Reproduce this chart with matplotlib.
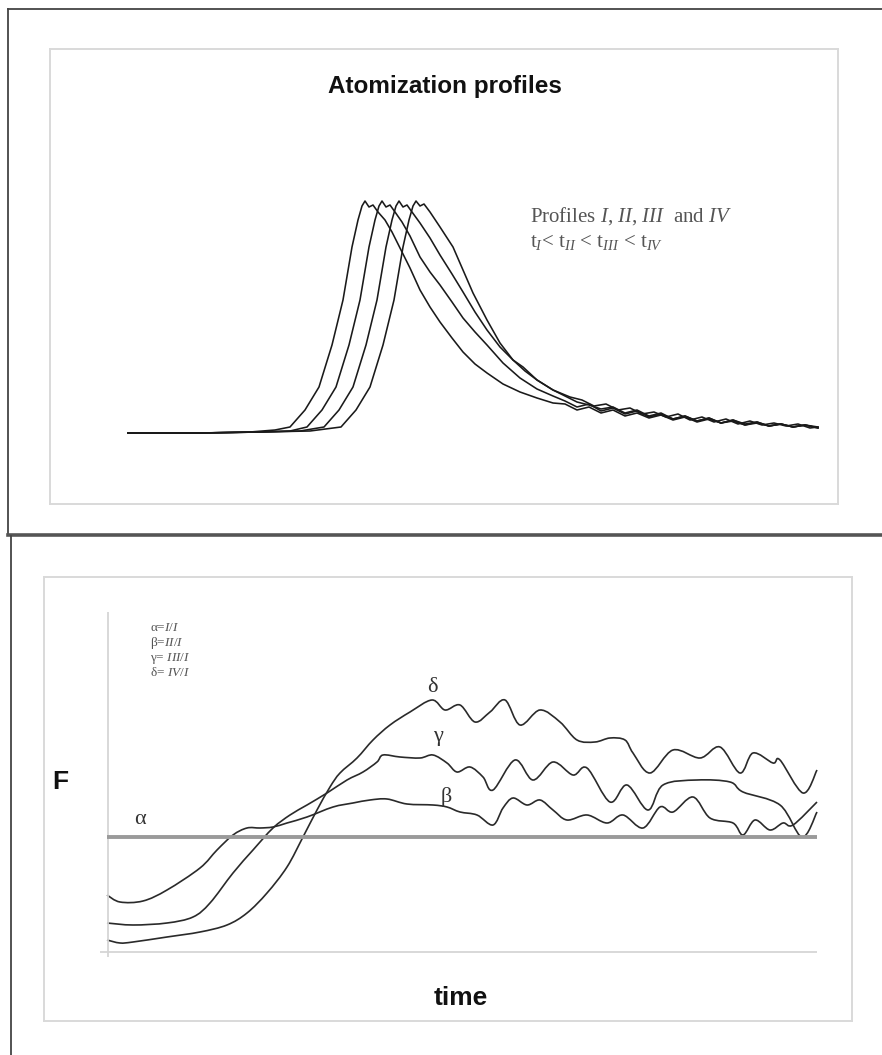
import matplotlib
matplotlib.use("Agg")
import matplotlib.pyplot as plt
from matplotlib.lines import Line2D
from matplotlib.path import Path
from matplotlib.patches import PathPatch

plt.rcParams['mathtext.fontset'] = 'custom'
plt.rcParams['mathtext.rm'] = 'Liberation Serif'
plt.rcParams['mathtext.it'] = 'Liberation Serif:italic'

# ---------------- data: atomization profiles (time in ms, signal in mAbs) -------------
t_I = [0, 720, 1220, 1470, 1620, 1770, 1910, 2040, 2150, 2240, 2300, 2340, 2370, 2410, 2450,
       2500, 2570, 2640, 2720, 2820, 2920, 3020, 3120, 3240, 3350, 3470, 3590, 3750, 3920,
       4090, 4250, 4370, 4490, 4610, 4730, 4850, 4970, 5090, 5210, 5330, 5450, 5570, 5690,
       5810, 5930, 6050, 6170, 6290, 6410, 6530, 6650, 6770, 6900]
s_I = [0, 0, 1, 3, 6, 23, 46, 88, 133, 186, 213, 227, 232, 226, 228,
       221, 213, 201, 185, 165, 143, 126, 111, 95, 81, 69, 60, 49, 41,
       35, 30, 29, 23, 26, 20, 23, 17, 20, 15, 18, 13, 16, 11,
       14, 10, 12, 8, 10, 7, 9, 6, 8, 5]

t_II = [0, 720, 1320, 1620, 1790, 1940, 2080, 2210, 2320, 2410, 2470, 2510, 2540, 2580, 2620,
        2670, 2740, 2820, 2920, 3020, 3120, 3240, 3350, 3470, 3590, 3750, 3920, 4090, 4250,
        4370, 4490, 4610, 4730, 4850, 4970, 5090, 5210, 5330, 5450, 5570, 5690, 5810, 5930,
        6050, 6170, 6290, 6410, 6530, 6650, 6770, 6900]
s_II = [0, 0, 1, 2, 6, 23, 46, 88, 133, 186, 213, 227, 232, 226, 228,
        221, 211, 197, 176, 161, 148, 131, 115, 101, 88, 70, 55, 44, 37,
        32, 26, 29, 22, 25, 19, 22, 16, 19, 14, 17, 12, 15, 10,
        13, 9, 11, 7, 9, 6, 8, 6]

t_III = [0, 720, 1320, 1720, 1960, 2110, 2250, 2380, 2490, 2580, 2640, 2680, 2710, 2750, 2790,
         2840, 2920, 3020, 3120, 3240, 3350, 3470, 3590, 3720, 3850, 3970, 4090, 4250, 4420,
         4540, 4660, 4780, 4900, 5020, 5140, 5260, 5380, 5500, 5620, 5740, 5860, 5980, 6100,
         6220, 6340, 6460, 6580, 6700, 6820, 6900]
s_III = [0, 0, 1, 2, 6, 23, 46, 88, 133, 186, 213, 227, 232, 226, 228,
         221, 210, 195, 178, 159, 141, 121, 103, 86, 73, 62, 53, 43, 36,
         33, 27, 29, 23, 25, 19, 21, 16, 19, 13, 16, 11, 14, 9,
         12, 8, 10, 7, 9, 5, 6]

t_IV = [0, 720, 1320, 1820, 2130, 2280, 2420, 2550, 2660, 2750, 2810, 2850, 2880, 2920, 2960,
        3020, 3120, 3250, 3350, 3450, 3590, 3720, 3850, 3950, 4090, 4250, 4370, 4490,
        4610, 4730, 4850, 4970, 5090, 5210, 5330, 5450, 5570, 5690, 5810, 5930, 6050, 6170,
        6290, 6410, 6530, 6650, 6770, 6900]
s_IV = [0, 0, 1, 2, 6, 23, 46, 88, 133, 186, 213, 227, 232, 227, 229,
        221, 206, 186, 163, 140, 113, 90, 73, 66, 53, 43, 37, 31,
        28, 24, 26, 20, 23, 17, 20, 14, 17, 12, 15, 10, 13, 8,
        11, 7, 9, 6, 8, 5]

# ---------------- data: ratio curves F (time in ms) ----------------
t_alpha = [0, 7100]
F_alpha = [1.0, 1.0]

t_beta = [0, 130, 360, 600, 930, 1100, 1260, 1400, 1530, 1660, 1800, 2000, 2260, 2460, 2630,
          2800, 3000, 3260, 3400, 3530, 3700, 3860, 3960, 4060, 4200, 4330, 4460, 4600, 4800,
          5000, 5160, 5360, 5530, 5660, 5860, 6030, 6260, 6360, 6480, 6630, 6760, 6860, 7100]
F_beta = [0.710, 0.675, 0.680, 0.735, 0.845, 0.935, 1.010, 1.045, 1.045, 1.050, 1.070, 1.100,
          1.150, 1.170, 1.185, 1.190, 1.165, 1.160, 1.150, 1.125, 1.110, 1.060, 1.145, 1.195,
          1.160, 1.185, 1.135, 1.085, 1.110, 1.070, 1.110, 1.045, 1.150, 1.125, 1.200, 1.095,
          1.070, 1.010, 1.085, 1.035, 1.070, 1.060, 1.175]

t_gamma = [0, 260, 600, 860, 1030, 1260, 1460, 1660, 1830, 2000, 2200, 2400, 2560, 2700, 2760,
           2930, 3130, 3260, 3400, 3500, 3630, 3760, 3860, 4080, 4260, 4460, 4660, 4800, 5030,
           5200, 5410, 5560, 5900, 6230, 6360, 6730, 6950, 7100]
F_gamma = [0.570, 0.560, 0.570, 0.600, 0.670, 0.820, 0.935, 1.045, 1.110, 1.160, 1.220, 1.285,
           1.325, 1.375, 1.410, 1.400, 1.395, 1.410, 1.370, 1.325, 1.350, 1.300, 1.235, 1.385,
           1.285, 1.375, 1.310, 1.345, 1.175, 1.260, 1.135, 1.260, 1.285, 1.275, 1.225, 1.160,
           1.000, 1.125]

t_delta = [0, 130, 260, 600, 930, 1200, 1400, 1600, 1800, 1960, 2100, 2230, 2330, 2500, 2660,
           2830, 3030, 3250, 3380, 3530, 3680, 3830, 3980, 4130, 4330, 4530, 4700, 4880, 5030,
           5180, 5260, 5430, 5660, 5930, 6130, 6330, 6460, 6660, 6730, 6960, 7100]
F_delta = [0.485, 0.470, 0.475, 0.500, 0.525, 0.560, 0.620, 0.720, 0.850, 1.000, 1.135, 1.250,
           1.320, 1.395, 1.485, 1.560, 1.625, 1.685, 1.635, 1.660, 1.575, 1.625, 1.685, 1.560,
           1.635, 1.575, 1.485, 1.475, 1.495, 1.485, 1.420, 1.320, 1.435, 1.395, 1.450, 1.320,
           1.420, 1.370, 1.385, 1.220, 1.335]

legend_lines = [("α=", "I/I"), ("β=", "II/I"), ("γ= ", "III/I"), ("δ= ", "IV/I")]

# ---------------- figure ----------------
W, H = 882, 1055
fig = plt.figure(figsize=(W / 100, H / 100), dpi=100)


def rect(x0, y0, x1, y1):
    return [x0 / W, 1 - y1 / H, (x1 - x0) / W, (y1 - y0) / H]


def fline(xs, ys, **kw):
    fig.add_artist(Line2D([x / W for x in xs], [1 - y / H for y in ys],
                          transform=fig.transFigure, **kw))


def smooth_line(ax, xs, ys, **kw):
    """Draw a smoothed (Catmull-Rom style) line through the data points."""
    n = len(xs)
    verts = [(xs[0], ys[0])]
    codes = [Path.MOVETO]
    for i in range(n - 1):
        x0, y0 = (xs[i - 1], ys[i - 1]) if i > 0 else (xs[i], ys[i])
        x1, y1 = xs[i], ys[i]
        x2, y2 = xs[i + 1], ys[i + 1]
        x3, y3 = (xs[i + 2], ys[i + 2]) if i + 2 < n else (x2, y2)
        verts += [(x1 + (x2 - x0) / 6, y1 + (y2 - y0) / 6),
                  (x2 - (x3 - x1) / 6, y2 - (y3 - y1) / 6),
                  (x2, y2)]
        codes += [Path.CURVE4] * 3
    ax.add_patch(PathPatch(Path(verts, codes), fill=False, **kw))


# outer frames
fline([8, 882], [9, 9], color='#444444', lw=1.3)
fline([8, 8], [9, 535], color='#444444', lw=1.3)
fline([8, 882], [534.5, 534.5], color='#555555', lw=2.6)
fline([11, 11], [536, 1055], color='#444444', lw=1.3)

serif = 'Liberation Serif'
sans = 'Liberation Sans'

# ---------------- top chart ----------------
ax1 = fig.add_axes(rect(50, 49, 838, 504))
ax1.set_xlim(-780, 7100)
ax1.set_ylim(-71, 384)
ax1.set_xticks([])
ax1.set_yticks([])
for sp in ax1.spines.values():
    sp.set_color('#d9d9d9')
    sp.set_linewidth(1.4)

for t, s in [(t_I, s_I), (t_II, s_II), (t_III, s_III), (t_IV, s_IV)]:
    ax1.plot(t, s, color='#1a1a1a', lw=1.15)

ax1.text(3170, 347, "Atomization profiles", ha='center', va='center',
         fontfamily=sans, fontweight='bold', fontsize=17.5, color='#111111')
ax1.text(4020, 211, r"Profiles $I$, $II$, $III$  and $IV$", ha='left', va='baseline',
         fontfamily=serif, fontsize=15, color='#555555')
ax1.text(4020, 186, r"t$_{I}$< t$_{II}$ < t$_{III}$ < t$_{IV}$", ha='left', va='baseline',
         fontfamily=serif, fontsize=15, color='#555555')

# ---------------- bottom chart ----------------
ax2 = fig.add_axes(rect(44, 577, 852, 1021))
ax2.set_xlim(-630, 7450)
ax2.set_ylim(0.08, 2.30)
ax2.set_xticks([])
ax2.set_yticks([])
for sp in ax2.spines.values():
    sp.set_color('#d9d9d9')
    sp.set_linewidth(1.4)

ax2.vlines(10, 0.40, 2.125, color='#d5d5d5', lw=1.3)
ax2.hlines(0.425, -70, 7100, color='#d5d5d5', lw=1.3)

ax2.plot(t_alpha, F_alpha, color='#9a9a9a', lw=2.8, solid_capstyle='butt')
for t, F in [(t_beta, F_beta), (t_gamma, F_gamma), (t_delta, F_delta)]:
    smooth_line(ax2, t, F, edgecolor='#2a2a2a', lw=1.2)

gl = dict(ha='center', va='center', fontfamily=serif, fontsize=16, color='#333333')
ax2.text(330, 1.09, "α", **gl)
ax2.text(3390, 1.20, "β", **gl)
ax2.text(3310, 1.50, "γ", **gl)
ax2.text(3250, 1.745, "δ", **gl)

for i, (g, r) in enumerate(legend_lines):
    ax2.text(430, 2.045 - i * 0.075, g + r"$" + r + r"$", ha='left', va='center',
             fontfamily=serif, fontsize=9.5, color='#555555')

ax2.text(-470, 1.275, "F", ha='center', va='center', fontfamily=sans,
         fontweight='bold', fontsize=19, color='#111111')
ax2.text(3540, 0.195, "time", ha='center', va='center', fontfamily=sans,
         fontweight='bold', fontsize=19, color='#111111')

fig.savefig("out.png", dpi=100)
